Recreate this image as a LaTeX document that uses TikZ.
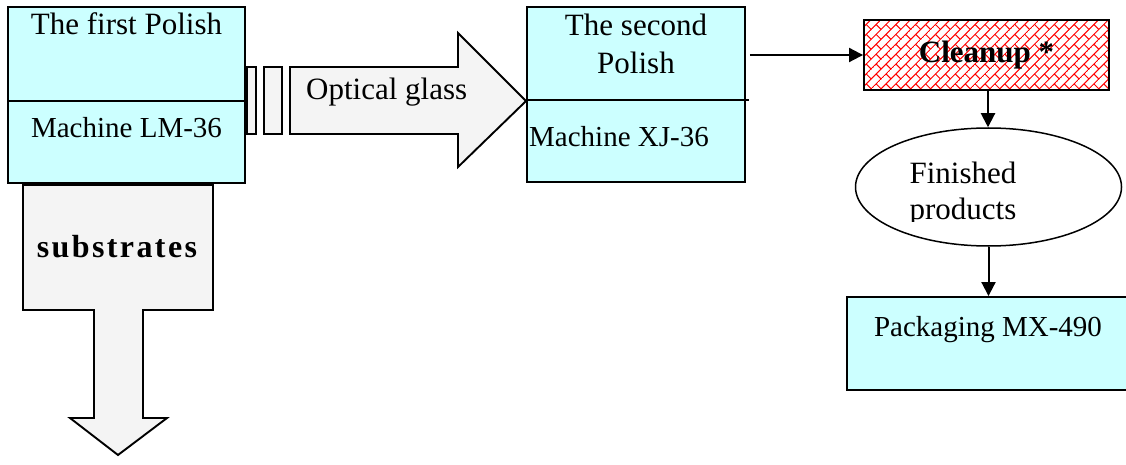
\documentclass[tikz,border=0pt]{standalone}
\usepackage{fontspec}
\setmainfont{Liberation Serif}
\usetikzlibrary{shapes.geometric,arrows.meta,patterns.meta}
\definecolor{machinecyan}{HTML}{CCFFFF}
\definecolor{arrowgrey}{HTML}{F4F4F4}
\tikzdeclarepattern{
  name=diagbricks,
  type=uncolored,
  bottom left={(-.5pt,-.5pt)},
  top right={(14.5pt,14.5pt)},
  tile size={(14pt,14pt)},
  tile transformation={rotate=45},
  code={
    \draw[line width=1pt] (0,0) -- (14pt,0) (0,7pt) -- (14pt,7pt);
    \draw[line width=1pt] (0,0) -- (0,7pt) (7pt,7pt) -- (7pt,14pt);
  }
}

\begin{document}
\begin{tikzpicture}[x=1pt,y=-1pt,
     machine/.style={draw,line width=1.9pt,fill=machinecyan,inner sep=0pt},
     bigarrow/.style={draw,line width=1.9pt,fill=arrowgrey,line join=miter},
     txt/.style={anchor=base,inner sep=0pt,font=\fontsize{31}{36}\selectfont},
     mtxt/.style={anchor=base,inner sep=0pt,font=\fontsize{29}{34}\selectfont},
     link/.style={line width=2pt,-{Triangle[length=14pt,width=14pt]}}
     ]
   \useasboundingbox (0,0) rectangle (1126,465);

   % the two polishing machines
   \node[machine,minimum width=237pt,minimum height=176pt] (polish1) at (126.5,95) {};
   \draw[line width=1.9pt] (polish1.west |- 0,101) -- (polish1.east |- 0,101);
   \node[txt] (title1) at (126.5,35) {The first Polish};
   \node[mtxt] (mach1) at (126.5,138) {Machine LM-36};

   \node[machine,minimum width=218pt,minimum height=175pt] (polish2) at (636,94.5) {};
   \draw[line width=1.9pt] (polish2.west |- 0,100) -- ([xshift=3pt]polish2.east |- 0,100);
   \foreach \word/\yb in {The second/36,Polish/74}
     \node[txt,name=title2-\yb] at (636,\yb) {\word};
   \node[mtxt,anchor=base west] (mach2) at (529,147) {Machine XJ-36};

   % optical glass arrow
   \foreach \a/\b in {247/256,264/282}
     \draw[bigarrow] (\a,67) rectangle (\b,134);
   \draw[bigarrow] (290,67) -- (458,67) -- (458,33) -- (polish2.west |- 0,101)
        -- (458,167) -- (458,134) -- (290,134) -- cycle;
   \node[txt,anchor=base west] (optical) at (306,100) {Optical glass};

   % substrates arrow
   \draw[bigarrow] (23,185) -- (213,185) -- (213,310) -- (143,310) -- (143,418)
        -- (167,418) -- (118,455) -- (70,418) -- (94,418) -- (94,310)
        -- (23,310) -- cycle;
   \node[anchor=base,inner sep=0pt,
         font=\fontsize{32}{36}\selectfont\bfseries\addfontfeature{LetterSpace=7.5}]
        (substr) at (117,257) {substrates};

   % cleanup and the rest
   \node[draw,line width=1.9pt,pattern={diagbricks},pattern color=red,
         minimum width=245pt,minimum height=70pt,inner sep=0pt,
         font=\fontsize{31}{36}\selectfont\bfseries] (cleanup) at (986.5,55) {Cleanup *};
   \draw[link] ([xshift=4pt]polish2.east |- cleanup.west) -- (cleanup.west);

   \node[draw,ellipse,line width=1.5pt,minimum width=266pt,minimum height=118pt,
         inner sep=0pt] (finished) at (988.5,187) {};
   \begin{scope}
   \clip (850,128) rectangle (1125,221);
   \foreach \word/\yb in {Finished/183,products/219}
     \node[txt,name=fin-\yb] at (963,\yb) {\word};
   \end{scope}
   \draw[link] ([xshift=1.5pt]cleanup.south) -- ([xshift=1.5pt]cleanup.south |- finished.north);

   \node[machine,minimum width=281pt,minimum height=93pt] (packaging) at (987.5,343.5) {};
   \node[mtxt] (packtxt) at (988,336) {Packaging MX-490};
   \draw[link] (finished.south) -- (finished.south |- packaging.north);
 \end{tikzpicture}
\end{document}
